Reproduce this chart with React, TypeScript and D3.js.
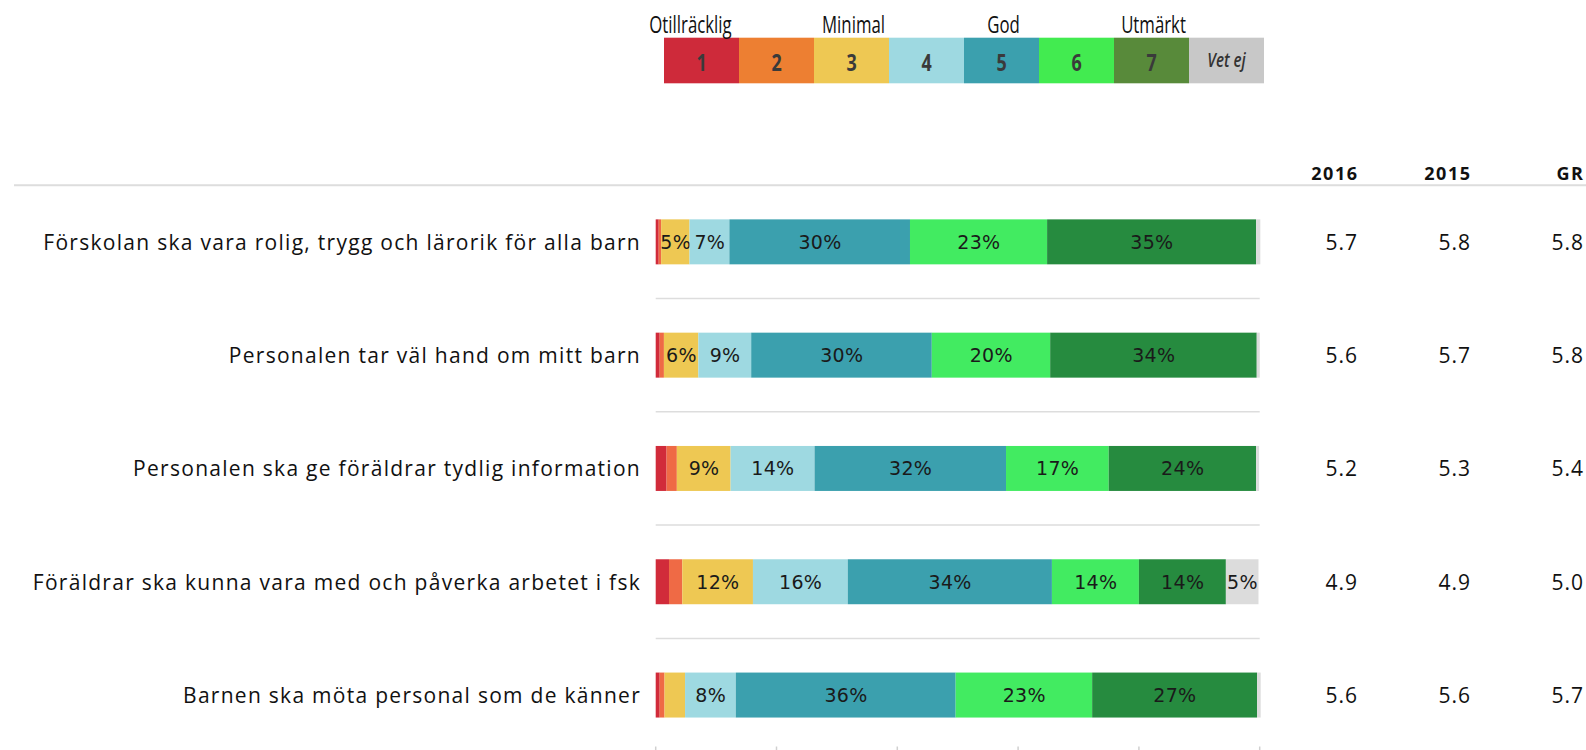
import React from "react";
import * as d3 from "d3";

// ---- Data ----
const categories = [
  "Förskolan ska vara rolig, trygg och lärorik för alla barn",
  "Personalen tar väl hand om mitt barn",
  "Personalen ska ge föräldrar tydlig information",
  "Föräldrar ska kunna vara med och påverka arbetet i fsk",
  "Barnen ska möta personal som de känner",
];
const levelKeys = ["1", "2", "3", "4", "5", "6", "7", "Vet ej"];
const legendTitles = ["Otillräcklig", "", "Minimal", "", "God", "", "Utmärkt", ""];

const level1 = [0.5, 0.66, 1.8, 2.2, 0.66];
const level2 = [0.4, 0.7, 1.7, 2.2, 0.8];
const level3 = [4.7, 5.7, 8.9, 11.7, 3.4];
const level4 = [6.6, 8.75, 13.9, 15.7, 8.4];
const level5 = [29.9, 29.9, 31.7, 33.8, 36.4];
const level6 = [22.7, 19.6, 17.0, 14.4, 22.6];
const level7 = [34.6, 34.2, 24.4, 14.4, 27.3];
const vetEj = [0.7, 0.5, 0.5, 5.4, 0.6];

const scoreHeaders = ["2016", "2015", "GR"];
const score2016 = [5.7, 5.6, 5.2, 4.9, 5.6];
const score2015 = [5.8, 5.7, 5.3, 4.9, 5.6];
const scoreGR = [5.8, 5.8, 5.4, 5.0, 5.7];

const xTicks = [0, 20, 40, 60, 80, 100];

// ---- Styles ----
const barColors = ["#D12B3A", "#EF6A45", "#EEC853", "#9ED9E1", "#3BA0AE", "#42EB61", "#268B3F", "#DCDCDC"];
const legendColors = ["#CE2A3A", "#ED7F32", "#EEC853", "#9ED9E1", "#3BA0AE", "#42EB50", "#588A3A", "#C8C8C8"];

const W = 1586;
const H = 750;

export default function App() {
  const series = [level1, level2, level3, level4, level5, level6, level7, vetEj];
  const rows = categories.map((c, i) => {
    const r: any = { category: c };
    levelKeys.forEach((k, j) => (r[k] = series[j][i]));
    return r;
  });
  const stacked = d3.stack<any>().keys(levelKeys)(rows);

  const x = d3.scaleLinear().domain([0, 100]).range([655.7, 1259.7]);
  const y = d3
    .scaleBand<string>()
    .domain(categories)
    .range([185.2, 751.7])
    .paddingInner(0.603)
    .paddingOuter(0.3015);
  const step = y.step();
  const bw = y.bandwidth();

  const legendX = d3.scaleBand<string>().domain(levelKeys).range([664, 1264]);
  const lw = legendX.bandwidth();

  const scoreCols = [score2016, score2015, scoreGR];
  const colX = d3.scalePoint<string>().domain(scoreHeaders).range([1357, 1583]);
  const fmt = d3.format(".1f");
  const pct = (v: number) => `${Math.round(v)}%`;

  const font = "'Open Sans', 'DejaVu Sans', sans-serif";

  return (
    <svg
      width={W}
      height={H}
      style={{ position: "absolute", left: 0, top: 0, background: "#fff" }}
      fontFamily={font}
    >
      {/* Legend */}
      <g>
        {levelKeys.map((k, i) => {
          const bx = legendX(k)!;
          const cx = bx + lw / 2;
          return (
            <g key={k}>
              <rect x={bx} y={37.7} width={lw} height={45.6} fill={legendColors[i]} />
              {k === "Vet ej" ? (
                <text
                  transform={`translate(${cx},67) scale(0.8,1)`}
                  textAnchor="middle"
                  fontSize={19}
                  fontStyle="italic"
                  fontWeight={600}
                  fill="#333"
                >
                  {k}
                </text>
              ) : (
                <text
                  transform={`translate(${cx},71) scale(0.78,1)`}
                  textAnchor="middle"
                  fontSize={23}
                  fontWeight="bold"
                  fill="#3a3a3a"
                >
                  {k}
                </text>
              )}
              {legendTitles[i] ? (
                <text
                  transform={`translate(${cx + (i === 0 ? -11 : 2)},33) scale(0.73,1)`}
                  textAnchor="middle"
                  fontSize={23}
                  fill="#111"
                >
                  {legendTitles[i]}
                </text>
              ) : null}
            </g>
          );
        })}
      </g>

      {/* Header line */}
      <line x1={14} x2={W} y1={y.range()[0]} y2={y.range()[0]} stroke="#DDDDDD" strokeWidth={2} />

      {/* Column headers */}
      {scoreHeaders.map((h) => (
        <text
          key={h}
          x={colX(h)! + 1.5}
          y={180}
          textAnchor="end"
          fontSize={18}
          fontWeight="bold"
          letterSpacing={1.5}
          fill="#111"
        >
          {h}
        </text>
      ))}

      {/* Row separators */}
      {categories.map((c, i) => {
        const yy = y(c)! + bw + (step - bw) / 2;
        return (
          <line
            key={"sep" + i}
            x1={x(0)}
            x2={x(100)}
            y1={yy}
            y2={yy}
            stroke="#DDDDDD"
            strokeWidth={1.5}
          />
        );
      })}

      {/* Bottom ticks */}
      {xTicks.map((t) => (
        <line key={"t" + t} x1={x(t)} x2={x(t)} y1={746.5} y2={752} stroke="#D0D0D0" strokeWidth={1.5} />
      ))}

      {/* Bars */}
      {stacked.map((s, si) => (
        <g key={s.key}>
          {s.map((d, ri) => {
            const cat = categories[ri];
            const x0 = x(d[0]);
            const x1 = x(d[1]);
            const v = d[1] - d[0];
            const cy = y(cat)! + bw / 2;
            return (
              <g key={cat}>
                <rect x={x0} y={y(cat)} width={Math.max(0, x1 - x0)} height={bw} fill={barColors[si]} />
                {v >= 4.5 ? (
                  <text
                    x={(x0 + x1) / 2 + 0.3}
                    y={cy + 7}
                    textAnchor="middle"
                    fontSize={19}
                    letterSpacing={0.3}
                    fontFamily="'DejaVu Sans', sans-serif"
                    fill="#1a1a1a"
                  >
                    {pct(v)}
                  </text>
                ) : null}
              </g>
            );
          })}
        </g>
      ))}

      {/* Row labels */}
      {categories.map((c) => (
        <text
          key={c}
          x={641}
          y={y(c)! + bw / 2 + 8}
          textAnchor="end"
          fontSize={21}
          letterSpacing={1.28}
          fill="#111"
        >
          {c}
        </text>
      ))}

      {/* Scores */}
      {scoreHeaders.map((h, ci) =>
        categories.map((c, ri) => (
          <text
            key={h + c}
            x={colX(h)! + 1}
            y={y(c)! + bw / 2 + 8}
            textAnchor="end"
            fontSize={21}
            letterSpacing={1}
            fill="#111"
          >
            {fmt(scoreCols[ci][ri])}
          </text>
        ))
      )}
    </svg>
  );
}
